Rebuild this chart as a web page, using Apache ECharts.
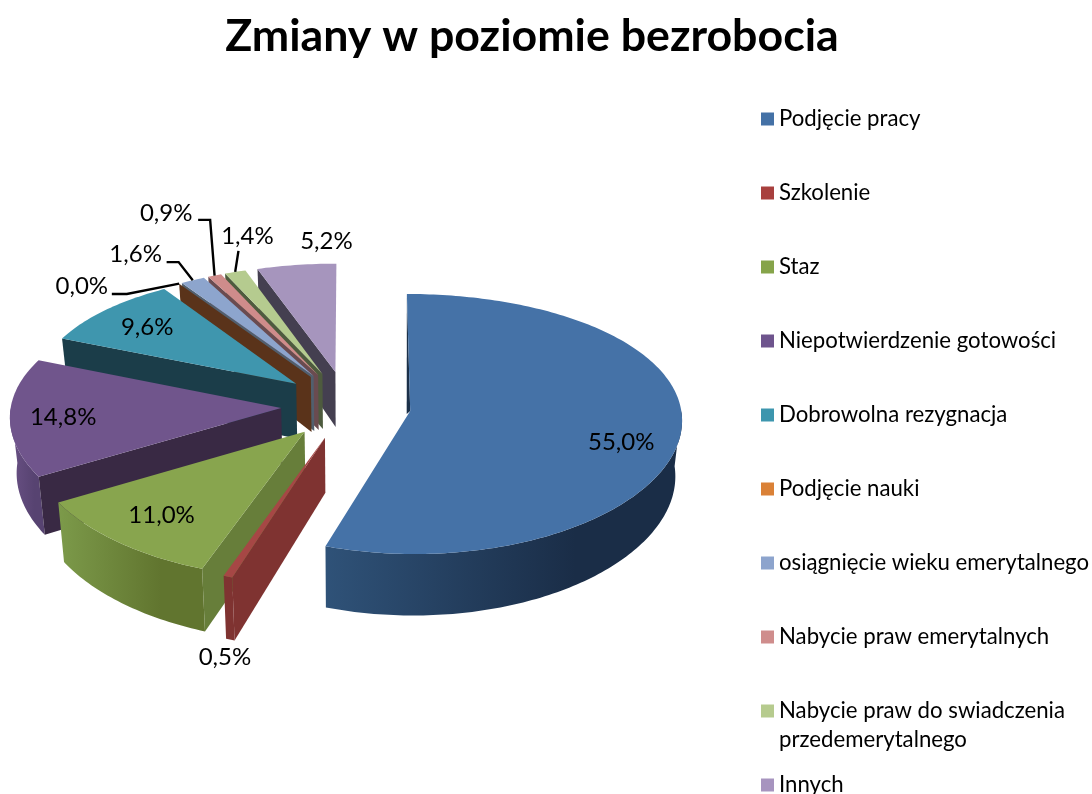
<!DOCTYPE html>
<html><head><meta charset="utf-8">
<style>html,body{margin:0;padding:0;background:#fff}#c{width:1092px;height:794px}</style>
<script src="https://cdn.jsdelivr.net/npm/echarts@6/dist/echarts.min.js"></script>
</head><body><div id="c"></div>
<script>
const titleText = 'Zmiany w poziomie bezrobocia';
const categories = ['Podjęcie pracy','Szkolenie','Staz','Niepotwierdzenie gotowości','Dobrowolna rezygnacja','Podjęcie nauki','osiągnięcie wieku emerytalnego','Nabycie praw emerytalnych','Nabycie praw do swiadczenia przedemerytalnego','Innych'];
const values = [55.0,0.5,11.0,14.8,9.6,0.0,1.6,0.9,1.4,5.2];
const legendColors = ['#4471a6','#a8403e','#86a44a','#6e548d','#3d96ae','#da8137','#8da4cd','#cf8d8c','#b6cb8e','#a794bf'];
const topColors = ['#4572a7','#a64745','#88a54e','#70558c','#3f96ae','#da8137','#8da5cd','#cf8c8b','#b5cb8f','#a695bd'];
const wallColors = ['#1b3049','#7f3331','#677e3a','#392944','#1b3d49','#5a331a','#515f6e','#6a4b50','#4e5b3e','#443f50'];
const rimColors = [['#2f5278','#1a2d47'],['#7f3331','#7f3331'],['#7c9a4a','#61752f'],['#6a5185','#574371'],['#1b3d49','#1b3d49'],['#5a331a','#5a331a'],['#515f6e','#515f6e'],['#6a4b50','#6a4b50'],['#4e5b3e','#4e5b3e'],['#443f50','#443f50']];
const labelOffsets = [[211,31],[-100,219],[-143,83],[-218,9],[-149,-56],[-229,-91],[-178,-122],[-152,-162],[-75,-138],[-9,-131]];
const leaderElbows = {5:[[-199,-83],[-184,-83]],6:[[-147,-114],[-135,-114]],7:[[-120,-155],[-108,-155]],8:[[-84,-123]]};

// projection of the tilted pie
const P = {cx:346, cy:405.6, rx:270, ry:128, ex:65, ey:34, depth:55, k:0.1, keBack:0.35, keFront:0.15, e:0.234, sxf:0.6, shrink:0.98};
const total = values.reduce((a,b)=>a+b,0);
const starts = []; values.reduce((acc,v,i)=>{starts[i]=acc; return acc+v;},0);
const deg = v => v/total*360;
const rad = d => d*Math.PI/180;
function geom(i){
  const a = deg(starts[i]), b = deg(starts[i]+values[i]), m = (a+b)/2;
  const sm = Math.sin(rad(m)), cm = Math.cos(rad(m));
  const ax = P.cx + P.ex*sm, ay = P.cy - P.ey*cm;
  const ke = cm>0?P.keBack:P.keFront;
  const scale = t => 1/(1 + P.k*Math.cos(rad(t)) + ke*P.e*cm);
  const rim = t => { const s = scale(t), sx = 1+(s-1)*P.sxf;
    return [P.cx + (ax-P.cx + P.rx*Math.sin(rad(t)))*sx, ay - P.ry*Math.cos(rad(t))*s]; };
  const low = (p,t) => { const s = t===null?1:scale(t);
    return [P.cx + (p[0]-P.cx)*P.shrink, p[1] + P.depth*s]; };
  return {a,b,m,ax,ay,rim,low};
}
function renderSlice(i){
  const g = geom(i), kids = [];
  const apex = [g.ax,g.ay];
  const poly = (pts,fill) => kids.push({type:'polygon',shape:{points:pts},style:{fill:fill}});
  const ra = Math.max(g.a,90), rb = Math.min(g.b,270);
  if (rb>ra && values[i]>0){
    const up=[], dn=[];
    for(let t=ra;;t+=1){ const tt=Math.min(t,rb); const p=g.rim(tt); up.push(p); dn.unshift(g.low(p,tt)); if(tt>=rb)break; }
    poly(up.concat(dn),{type:'linear',x:0,y:0,x2:1,y2:0,colorStops:[{offset:0,color:rimColors[i][0]},{offset:0.7,color:rimColors[i][1]},{offset:1,color:rimColors[i][1]}]});
  }
  if (g.a>=180){
    const p=g.rim(g.a);
    poly([apex,p,g.low(p,g.a),g.low(apex,null)],wallColors[i]);
  } else if (g.a===0){
    const p=g.rim(0);
    poly([p,apex,[g.ax-3.5,g.ay+3]],wallColors[i]);
  }
  if (values[i]>0){
    const pts=[apex];
    for(let t=g.a;;t+=1){ const tt=Math.min(t,g.b); pts.push(g.rim(tt)); if(tt>=g.b)break; }
    poly(pts,topColors[i]);
  }
  if (leaderElbows[i]){
    const pts = leaderElbows[i].map(o=>[g.ax+o[0],g.ay+o[1]]);
    pts.push(g.rim(g.m));
    kids.push({type:'polyline',shape:{points:pts},style:{stroke:'#000',lineWidth:2.4,fill:null}});
  }
  kids.push({type:'text',z2:100,style:{text:values[i].toFixed(1).replace('.',',')+'%',x:g.ax+labelOffsets[i][0],y:g.ay+labelOffsets[i][1],
    align:'center',verticalAlign:'middle',font:'24px Lato',fill:'#000'}});
  return {type:'group',children:kids};
}
const order = values.map((v,i)=>i).sort((p,q)=>Math.cos(rad(geom(q).m))-Math.cos(rad(geom(p).m)));
const series = categories.map((name,i)=>({
  name:name,type:'custom',coordinateSystem:'none',silent:true,animation:false,
  z:2+order.indexOf(i),
  itemStyle:{color:legendColors[i]},
  data:[[values[i]]],
  renderItem:()=>renderSlice(i)
}));
const chart = echarts.init(document.getElementById('c'),null,{renderer:'canvas'});
chart.setOption({
  backgroundColor:'#fff',animation:false,
  title:{text:titleText,left:527,top:9,textAlign:'center',textStyle:{fontFamily:'Lato',fontWeight:'bold',fontSize:44.7,color:'#000'}},
  legend:{orient:'vertical',left:756,top:103,height:720,itemWidth:13,itemHeight:13,itemGap:52,selectedMode:false,icon:'rect',
    data:categories,
    formatter:n=>n.indexOf('przedemerytalnego')>=0?'Nabycie praw do swiadczenia':n,
    textStyle:{fontFamily:'Lato',fontSize:22.2,color:'#000'}},
  graphic:[{type:'text',left:779,top:729,style:{text:'przedemerytalnego',font:'22.2px Lato',fill:'#000'}}],
  series:series
});
</script></body></html>
